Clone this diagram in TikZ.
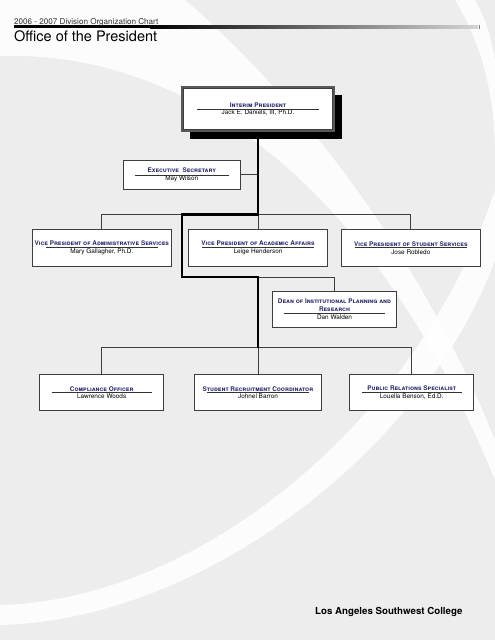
\documentclass[tikz,border=0pt]{standalone}
\usepackage{fontspec}
\setmainfont{TeX Gyre Heros}
\usepackage{xcolor}
\usetikzlibrary{positioning, calc, shadows}

\definecolor{paper}{RGB}{237,237,237}
\definecolor{navy}{RGB}{40,40,112}
\definecolor{edge}{RGB}{62,62,62}

\tikzset{
        post/.style={draw=edge, line width=1pt, fill=white, inner sep=0pt, align=center,
            minimum height=36.3pt, font=\fontsize{6.4}{7.7}\selectfont},
        thin line/.style={draw=edge, line width=0.9pt},
        thick line/.style={draw=black, line width=2.2pt},
        cut/.style={draw=black!80, line width=0.7pt},
        swoosh/.style={fill=white, opacity=0.85},
}
\newcommand{\ttl}[1]{{\color{navy}\bfseries\scshape #1}}
\newcommand{\cutline}[2]{\draw[cut] ($(#1.west)!0.1!(#1.east)+(0,#2)$) -- ($(#1.west)!0.9!(#1.east)+(0,#2)$);}

\begin{document}
\begin{tikzpicture}[x=1pt, y=-1pt]
        \fill[paper] (0,0) rectangle (495,640);
        \useasboundingbox (0,0) rectangle (495,640);
        % background swooshes
        \fill[swoosh] (0,0) -- (185,0) .. controls (220,30) and (390,180) .. (495,440)
            -- (495,480) .. controls (380,200) and (200,50) .. (0,56) -- cycle;
        \fill[swoosh] (495,190) .. controls (420,420) and (200,600) .. (0,605)
            -- (0,625) .. controls (210,620) and (430,440) .. (495,260) -- cycle;
        \fill[swoosh] (455,0) .. controls (485,50) and (495,100) .. (495,160)
            -- (495,60) .. controls (490,30) and (482,12) .. (475,0) -- cycle;

        % header
        \node[anchor=base west, inner sep=0pt, font=\fontsize{8.1}{9}\selectfont, text=black!80] (year) at (14,24.3) {2006 - 2007 Division Organization Chart};
        \fill[black] (14,25.3) rectangle (150,28.3);
        \shade[left color=black, right color=paper!90!black] (150,25.3) rectangle (478,28.3);
        \draw[gray, line width=0.6pt] (479.5,25) -- (479.5,29);
        \node[anchor=base west, inner sep=0pt, font=\fontsize{14.5}{16}\selectfont] (office) at (14,41) {Office of the President};

        % boxes
        \fill[black] (189.5,95) rectangle (342,139);
        \node[post, minimum width=152pt, minimum height=44pt, line width=1.6pt, draw=gray!70!black] (pres) at (258,109)
            {\ttl{Interim President}\\Jack E. Daniels, III, Ph.D.};
        \draw[edge, line width=0.6pt] ([shift={(2.5,2.5)}]pres.north west) rectangle ([shift={(-2.5,-2.5)}]pres.south east);
        \node[post, minimum width=117pt, minimum height=29pt] (sec) at (181.8,174.5)
            {\ttl{Executive\ \ Secretary}\\May Wilson};
        \node[post, minimum width=139pt] (vpa) at (101.8,248)
            {\ttl{Vice President of Administrative Services}\\Mary Gallagher, Ph.D.};
        \node[post, minimum width=139pt] (vpaa) at (258,248)
            {\ttl{Vice President of Academic Affairs}\\Leige Henderson};
        \node[post, minimum width=139pt] (vps) at (410.8,248)
            {\ttl{Vice President of Student Services}\\Jose Robledo};
        \node[post, minimum width=124.4pt, minimum height=36.7pt] (dean) at (334.5,309.4)
            {\ttl{Dean of Institutional Planning and}\\\ttl{Research}\\Dan Walden};
        \node[post, minimum width=124pt] (comp) at (101.7,392.8)
            {\ttl{Compliance Officer}\\Lawrence Woods};
        \node[post, minimum width=127.7pt] (recr) at (258,392.8)
            {\ttl{Student Recruitment Coordinator}\\Johnel Barron};
        \node[post, minimum width=124pt] (pr) at (411.7,392.8)
            {\ttl{Public Relations Specialist}\\Louella Benson, Ed.D.};

        \cutline{pres}{0.5}
        \cutline{sec}{0.5}
        \cutline{vpa}{-0.5}
        \cutline{vpaa}{-0.5}
        \cutline{vps}{-0.5}
        \cutline{dean}{3.6}
        \cutline{comp}{-0.3}
        \cutline{recr}{-0.3}
        \cutline{pr}{-0.3}

        % connectors
        \coordinate (top) at (258,214.5);
        \coordinate (bend) at (181.7,214.5);
        \coordinate (knee) at (181.7,277);
        \coordinate (mid) at (258,277);
        \coordinate (bot) at (258,347.5);

        \draw[thin line] (sec.east) -- (sec.east -| top);
        \draw[thin line] (vpa.north) -- (vpa.north |- top) -- (vps.north |- top) -- (vps.north);
        \draw[thin line] (top) -- (vpaa.north);
        \draw[thin line] (mid) -| (dean.north);
        \draw[thin line] (comp.north) -- (comp.north |- bot) -- (pr.north |- bot) -- (pr.north);
        \draw[thin line] (bot) -- (recr.north);
        \draw[thick line] (pres.south) -- (top) -- (bend) -- (knee) -- (mid) -- (bot);

        % footer
        \node[anchor=base west, inner sep=0pt, font=\fontsize{9.7}{11}\selectfont\bfseries] (college) at (315,614.5) {Los Angeles Southwest College};
\end{tikzpicture}
\end{document}
